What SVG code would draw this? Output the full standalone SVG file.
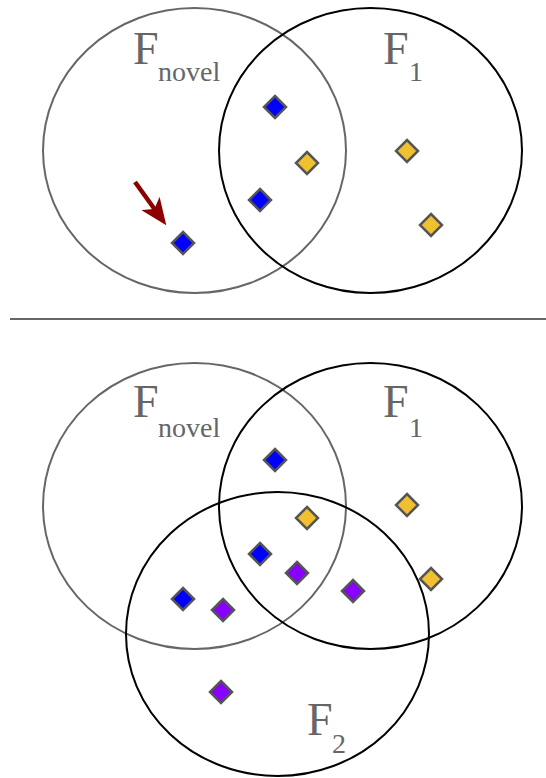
<svg xmlns="http://www.w3.org/2000/svg" width="546" height="778" viewBox="0 0 546 778">
<style>
.novel{fill:none;stroke:#666;stroke-width:2}
.set{fill:none;stroke:#000;stroke-width:2}
.lbl{font-family:"Liberation Serif",serif;fill:#666}
.big{font-size:46px}
.sub{font-size:28px}
.b{fill:#0000ff;stroke:#555;stroke-width:2.5}
.g{fill:#f0c030;stroke:#555;stroke-width:2.5}
.p{fill:#8800ff;stroke:#555;stroke-width:2.5}
</style>
<defs>
<path id="d" d="M0,-11 L11,0 L0,11 L-11,0 Z"/>
<marker id="ah" markerWidth="6" markerHeight="5" refX="4" refY="2.5" orient="auto" markerUnits="strokeWidth">
<path d="M0,0 L6,2.5 L0,5 L1.5,2.5 Z" fill="#8b0000"/>
</marker>
</defs>
<rect width="546" height="778" fill="#fff"/>

<g id="top-Fnovel">
<ellipse class="novel" cx="194.5" cy="150.5" rx="151.5" ry="142.5"/>
<text class="lbl big" x="133" y="64">F</text>
<text class="lbl sub" x="158" y="81">novel</text>
</g>
<g id="top-F1">
<ellipse class="set" cx="370.5" cy="150.5" rx="151.5" ry="142.5"/>
<text class="lbl big" x="383" y="64">F</text>
<text class="lbl sub" x="409" y="81">1</text>
</g>
<g id="top-points">
<use href="#d" class="b" x="275" y="107"/>
<use href="#d" class="g" x="307" y="163"/>
<use href="#d" class="b" x="260" y="200"/>
<use href="#d" class="b" x="183" y="243"/>
<use href="#d" class="g" x="407" y="151"/>
<use href="#d" class="g" x="431" y="225"/>
</g>
<g id="connectors">
<line x1="135" y1="182" x2="161" y2="218" stroke="#8b0000" stroke-width="4.5" marker-end="url(#ah)"/>
</g>

<line id="separator" x1="10" y1="319" x2="546" y2="319" stroke="#666" stroke-width="2"/>

<g id="bottom-Fnovel">
<ellipse class="novel" cx="194.5" cy="506" rx="151.5" ry="143"/>
<text class="lbl big" x="133" y="417">F</text>
<text class="lbl sub" x="158" y="437">novel</text>
</g>
<g id="bottom-F1">
<ellipse class="set" cx="370.5" cy="506" rx="151.5" ry="143"/>
<text class="lbl big" x="383" y="417">F</text>
<text class="lbl sub" x="409" y="437">1</text>
</g>
<g id="bottom-F2">
<ellipse class="set" cx="277.5" cy="634" rx="151.5" ry="142"/>
<text class="lbl big" x="307" y="735">F</text>
<text class="lbl sub" x="332" y="753">2</text>
</g>
<g id="bottom-points">
<use href="#d" class="b" x="275" y="460"/>
<use href="#d" class="g" x="307" y="518"/>
<use href="#d" class="g" x="407" y="505"/>
<use href="#d" class="b" x="260" y="554"/>
<use href="#d" class="p" x="297" y="573"/>
<use href="#d" class="p" x="353" y="591"/>
<use href="#d" class="g" x="431" y="579"/>
<use href="#d" class="b" x="183" y="599"/>
<use href="#d" class="p" x="223" y="610"/>
<use href="#d" class="p" x="221" y="692"/>
</g>
</svg>
